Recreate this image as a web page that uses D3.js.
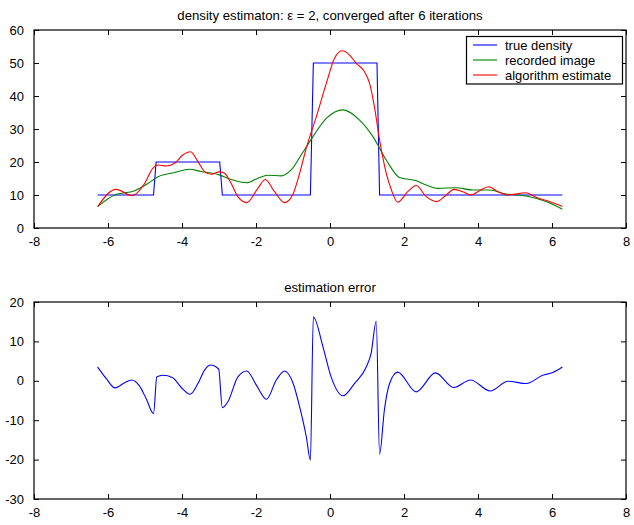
<!DOCTYPE html>
<html>
<head>
<meta charset="utf-8">
<script src="https://cdn.jsdelivr.net/npm/d3@7/dist/d3.min.js"></script>
<style>
  html, body { margin: 0; padding: 0; background: #fff; }
  svg text { font-family: "Liberation Sans", Arial, Helvetica, sans-serif; fill: #000; }
</style>
</head>
<body>
<svg id="chart" width="634" height="525"></svg>
<script>
// ---- data ----
const xTicks = [-8, -6, -4, -2, 0, 2, 4, 6, 8];
const topYTicks = [0, 10, 20, 30, 40, 50, 60];
const botYTicks = [-30, -20, -10, 0, 10, 20];

const topTitle = "density estimaton: \u03b5 = 2, converged after 6 iterations";
const botTitle = "estimation error";
const legendLabels = ["true density", "recorded image", "algorithm estimate"];

// true density (step function on sampled grid)
const trueX = [-6.28, -4.77, -4.70, -2.98, -2.91, -0.53, -0.45, 1.27, 1.34, 6.28];
const trueY = [10, 10, 20, 20, 10, 10, 50, 50, 10, 10];

// recorded image
const recX = [-6.28, -5.82, -5.28, -4.92, -4.65, -4.20, -3.80, -3.48, -2.99, -2.67, -2.26, -1.95, -1.68, -1.32, -1.05, -0.78, -0.46, -0.10, 0.35, 0.80, 1.16, 1.52, 1.88, 2.33, 2.60, 2.91, 3.41, 3.86, 4.31, 4.76, 5.30, 5.84, 6.28];
const recY = [6.5, 10.0, 11.3, 13.5, 15.5, 16.8, 17.8, 17.1, 16.1, 14.7, 13.7, 15.1, 16.0, 15.8, 17.6, 22.1, 27.7, 33.2, 35.8, 32.7, 27.7, 20.6, 15.3, 14.3, 13.0, 12.0, 12.2, 11.5, 11.5, 10.3, 9.7, 8.0, 5.7];

// algorithm estimate
const estX = [-6.28, -5.78, -5.35, -5.01, -4.79, -4.65, -4.43, -4.20, -3.98, -3.77, -3.57, -3.39, -3.21, -2.99, -2.85, -2.67, -2.49, -2.25, -1.95, -1.75, -1.50, -1.23, -1.01, -0.82, -0.64, -0.37, -0.10, 0.12, 0.33, 0.53, 0.71, 0.93, 1.07, 1.20, 1.34, 1.52, 1.66, 1.83, 2.10, 2.33, 2.60, 2.89, 3.14, 3.36, 3.59, 3.82, 4.04, 4.29, 4.54, 4.81, 5.30, 5.57, 5.93, 6.28];
const estY = [6.5, 11.7, 9.8, 13.5, 18.1, 19.1, 18.8, 19.6, 22.1, 23.1, 20.1, 17.1, 16.3, 17.0, 16.6, 13.5, 9.5, 7.7, 12.0, 14.7, 11.0, 7.7, 10.0, 16.6, 24.3, 33.7, 43.8, 51.4, 53.7, 52.4, 49.9, 47.4, 43.8, 36.8, 26.7, 16.6, 11.5, 7.8, 11.0, 12.9, 9.5, 8.0, 10.0, 11.7, 11.0, 10.0, 11.3, 12.5, 11.0, 10.0, 10.7, 9.3, 8.0, 6.5];

// estimation error
const errX = [-6.28, -6.05, -5.81, -5.55, -5.36, -5.15, -4.97, -4.77, -4.68, -4.52, -4.25, -4.02, -3.78, -3.57, -3.39, -3.23, -3.01, -2.91, -2.76, -2.49, -2.25, -1.99, -1.72, -1.45, -1.23, -1.01, -0.82, -0.64, -0.53, -0.45, -0.19, 0.03, 0.35, 0.66, 0.98, 1.11, 1.25, 1.34, 1.47, 1.61, 1.83, 2.33, 2.85, 3.34, 3.80, 4.33, 4.81, 5.30, 5.75, 6.02, 6.28];
const errY = [3.5, 0.6, -1.8, -0.5, 0.2, -1.3, -4.5, -8.3, 1.0, 1.4, 0.8, -1.7, -3.4, -0.7, 2.7, 4.0, 3.0, -6.8, -5.3, 1.0, 2.5, -1.1, -4.7, 0.2, 2.5, -0.3, -6.6, -14.2, -20.1, 16.2, 8.6, 1.0, -3.8, -0.7, 3.5, 6.9, 15.1, -18.6, -7.4, -0.7, 2.2, -2.8, 2.0, -1.7, 0.2, -2.6, -0.1, -0.7, 1.4, 2.1, 3.5];

// ---- drawing ----
const svg = d3.select("#chart");
const L = 34, R = 626;
const tickLen = 5;
const fontSize = 13;
const fmt = d => String(d);

function makeAxes(top, bottom, yDomain, yTicks, title) {
  const x = d3.scaleLinear().domain([-8, 8]).range([L, R]);
  const y = d3.scaleLinear().domain(yDomain).range([bottom, top]);
  const g = svg.append("g");

  g.append("g").attr("transform", `translate(0,${bottom})`)
    .call(d3.axisBottom(x).tickValues(xTicks).tickSizeInner(-tickLen).tickSizeOuter(0).tickPadding(9).tickFormat(fmt))
    .call(a => a.select(".domain").remove())
    .call(a => a.selectAll("text").attr("font-size", fontSize).attr("font-family", null));
  g.append("g").attr("transform", `translate(0,${top})`)
    .call(d3.axisTop(x).tickValues(xTicks).tickSizeInner(-tickLen).tickSizeOuter(0).tickFormat(""))
    .call(a => a.select(".domain").remove());
  g.append("g").attr("transform", `translate(${L},0)`)
    .call(d3.axisLeft(y).tickValues(yTicks).tickSizeInner(-tickLen).tickSizeOuter(0).tickPadding(10).tickFormat(fmt))
    .call(a => a.select(".domain").remove())
    .call(a => a.selectAll("text").attr("font-size", fontSize).attr("font-family", null));
  g.append("g").attr("transform", `translate(${R},0)`)
    .call(d3.axisRight(y).tickValues(yTicks).tickSizeInner(-tickLen).tickSizeOuter(0).tickFormat(""))
    .call(a => a.select(".domain").remove());

  g.selectAll(".tick line").attr("stroke", "#000");

  g.append("rect").attr("x", L).attr("y", top).attr("width", R - L).attr("height", bottom - top)
    .attr("fill", "none").attr("stroke", "#000").attr("stroke-width", 1.2);

  svg.append("text").attr("x", (L + R) / 2).attr("y", top - 10)
    .attr("text-anchor", "middle").attr("font-size", 13.2).text(title);
  return { x, y };
}

function drawLine(sc, xs, ys, color, curve) {
  const pts = xs.map((d, i) => [d, ys[i]]);
  svg.append("path").datum(pts)
    .attr("fill", "none").attr("stroke", color).attr("stroke-width", 1.1)
    .attr("d", d3.line().x(d => sc.x(d[0])).y(d => sc.y(d[1])).curve(curve));
}

// top chart
const t = makeAxes(30, 228, [0, 60], topYTicks, topTitle);
drawLine(t, trueX, trueY, "#0000ff", d3.curveLinear);
drawLine(t, recX, recY, "#008000", d3.curveMonotoneX);
drawLine(t, estX, estY, "#ff0000", d3.curveMonotoneX);

// legend
const colors = ["#0000ff", "#008000", "#ff0000"];
const lg = svg.append("g");
lg.append("rect").attr("x", 466.5).attr("y", 36.5).attr("width", 156).attr("height", 47.5)
  .attr("fill", "#fff").attr("stroke", "#000").attr("stroke-width", 1.2);
legendLabels.forEach((lab, i) => {
  const yy = 45 + i * 15;
  lg.append("line").attr("x1", 473).attr("x2", 497).attr("y1", yy).attr("y2", yy)
    .attr("stroke", colors[i]).attr("stroke-width", 1.1);
  lg.append("text").attr("x", 505).attr("y", yy + 4.5).attr("font-size", fontSize).text(lab);
});

// bottom chart
const b = makeAxes(302, 499, [-30, 20], botYTicks, botTitle);
drawLine(b, errX, errY, "#0000ff", d3.curveMonotoneX);
</script>
</body>
</html>
